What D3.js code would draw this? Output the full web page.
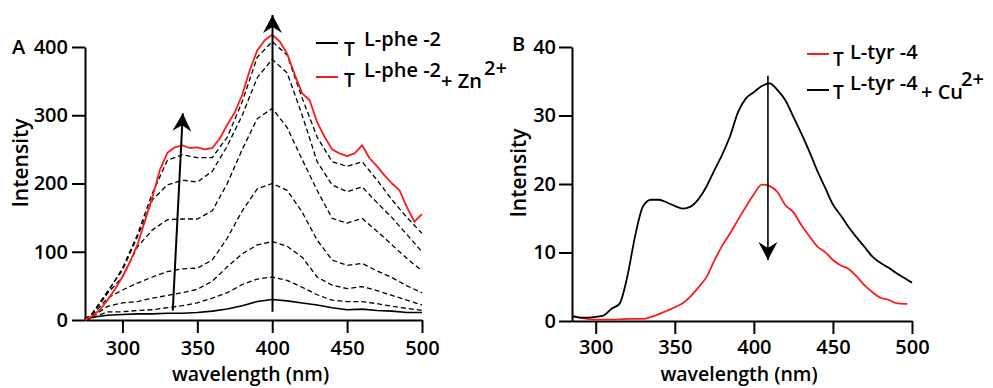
<!DOCTYPE html>
<html><head><meta charset="utf-8">
<script src="https://cdn.jsdelivr.net/npm/d3@7"></script>
<style>
body{margin:0;background:#fff}
text{font-family:"Open Sans",sans-serif;font-weight:600;fill:#000}
</style>
</head><body>
<svg id="c" width="993" height="388"></svg>
<script>
// ---------- Panel A data ----------
const wlA = [275,280,290,300,310,320,330,340,350,360,370,380,390,400,410,420,430,440,450,460,470,480,490,500];
const pheAlone = [0,4,7,8,9,9,10,10,11,13,16,21,27,30,28,25,22,18,15,16,14,13,11,11];
const titr1 = [0,3,12,12,14,15,18,21,25,32,40,52,60,63,58,48,37,29,27,27,24,20,17,14];
const titr2 = [0,5,20,25,27,32,36,40,45,57,78,97,110,115,108,92,63,51,46,49,43,36,29,22];
const titr3 = [1,7,32,44,54,63,71,75,76,88,120,160,192,200,190,158,117,88,80,83,72,62,50,40];
const titr4 = [1,8,39,63,107,132,147,148,148,160,200,250,295,310,282,235,190,149,142,149,130,110,90,72];
const titr5 = [1,10,42,73,122,176,198,205,202,218,255,300,355,382,362,300,232,198,188,195,172,150,125,100];
const titr6 = [1,10,40,76,125,186,234,242,238,238,268,320,385,408,388,325,268,232,225,232,205,176,150,127];
const wlRed = [275,280,285,290,295,300,305,310,315,320,325,330,335,340,345,350,355,360,365,370,375,380,385,390,395,400,405,410,415,420,425,430,435,440,445,450,455,460,465,470,475,480,485,490,495,500];
const pheZn = [0,6,15,29,45,63,85,110,145,180,220,245,253,256,252,253,250,252,266,286,304,330,366,395,410,418,408,390,360,332,322,290,268,250,244,240,244,256,237,225,212,200,190,165,144,155];
const xTicksA = [300,350,400,450,500];
const yTicksA = [0,100,200,300,400];

// ---------- Panel B data ----------
const wlTyr = [285,290,295,300,310,320,330,335,340,345,350,355,360,365,370,375,380,385,390,395,400,405,410,415,420,425,430,435,440,445,450,455,460,465,470,475,480,485,490,495,497];
const tyr = [0.8,0.5,0.3,0.2,0.2,0.3,0.3,0.6,1.0,1.5,2.0,2.6,3.6,4.9,6.4,8.8,11.0,12.8,14.8,16.7,18.5,19.9,19.7,18.8,16.9,15.9,14.0,12.4,10.9,10.1,8.9,8.1,7.6,6.5,5.2,4.2,3.4,3.1,2.6,2.5,2.5];
const wlCu = [285,290,295,300,305,310,315,320,325,330,335,340,345,350,355,360,365,370,375,380,385,390,395,400,405,410,415,420,425,430,435,440,445,450,455,460,465,470,475,480,485,490,495,500];
const tyrCu = [0.7,0.5,0.5,0.6,0.8,1.8,2.5,6.5,12.5,16.8,17.7,17.7,17.3,16.8,16.4,16.7,17.8,19.6,22,24.3,27,30.5,32.5,33.4,34.3,34.7,33.7,32.2,29.8,27.4,24.8,22,19.5,17,15.4,13.7,12.2,10.8,9.4,8.5,7.8,7.0,6.3,5.6];
const xTicksB = [300,350,400,450,500];
const yTicksB = [0,10,20,30,40];

// arrows (data units): [x0,y0,x1,y1] tail -> tip
const arrowsA = [[333.6,14,340.3,303],[400.2,12,400.2,447]];
const arrowsB = [[408.9,35.8,408.9,8.9]];

const svg = d3.select("#c");

function arrowHead(g, x0, y0, x1, y1, L, W, notch){
  const ang = Math.atan2(y1-y0, x1-x0)*180/Math.PI;
  g.append("path")
    .attr("d", `M0,0 L${-L},${-W/2} L${-L+notch},0 L${-L},${W/2} Z`)
    .attr("transform", `translate(${x1},${y1}) rotate(${ang})`)
    .attr("fill", "#000");
}

function drawPanel(cfg){
  const g = svg.append("g");
  const x = d3.scaleLinear().domain(cfg.xd).range(cfg.xr);
  const y = d3.scaleLinear().domain(cfg.yd).range(cfg.yr);

  const xa = g.append("g").attr("transform", `translate(0,${cfg.yr[0]})`)
    .call(d3.axisBottom(x).tickValues(cfg.xt).tickSize(13).tickSizeOuter(0).tickPadding(cfg.xpad));
  const ya = g.append("g").attr("transform", `translate(${cfg.xr[0]},0)`)
    .call(d3.axisLeft(y).tickValues(cfg.yt).tickSize(13).tickSizeOuter(0).tickPadding(cfg.ypad));
  [xa, ya].forEach(a => {
    a.selectAll("path,line").attr("stroke", "#000").attr("stroke-width", 2);
    a.selectAll("text").style("font-size", "20px").style("font-weight", "600").attr("fill", "#000");
  });

  const line = d3.line().curve(cfg.curve).x(d => x(d[0])).y(d => y(d[1]));
  cfg.series.forEach(s => {
    g.append("path")
      .datum(s.x.map((w,i) => [w, s.y[i]]))
      .attr("d", line)
      .attr("fill", "none")
      .attr("stroke", s.color)
      .attr("stroke-width", s.w)
      .attr("stroke-dasharray", s.dash || null)
      .attr("stroke-linejoin", "round");
  });

  cfg.arrows.forEach(a => {
    const X0 = x(a[0]), Y0 = y(a[1]), X1 = x(a[2]), Y1 = y(a[3]);
    g.append("line").attr("x1", X0).attr("y1", Y0).attr("x2", X1).attr("y2", Y1)
      .attr("stroke", "#000").attr("stroke-width", cfg.aw);
    arrowHead(g, X0, Y0, X1, Y1, 18, 19, 6);
  });

  // axis titles
  g.append("text").attr("x", d3.mean(cfg.xr)-3).attr("y", 381).attr("text-anchor", "middle")
    .style("font-size", "19.5px").text("wavelength (nm)");
  g.append("text").attr("transform", `translate(${cfg.ylx},${cfg.yly}) rotate(-90)`)
    .attr("text-anchor", "middle").attr("dy", "0.35em")
    .style("font-size", "21px").text("Intensity");
  g.append("text").attr("x", cfg.lab[0]).attr("y", cfg.lab[1]).style("font-size", "20px").text(cfg.label);
  return g;
}

drawPanel({
  xd:[275,500], xr:[85,422], yd:[0,400], yr:[320,47], xt:xTicksA, yt:yTicksA, xpad:8, ypad:4,
  ylx:21, yly:163, lab:[12,54], label:"A", aw:2, curve:d3.curveLinear,
  series:[
    {x:wlA, y:pheAlone, color:"#000", w:1.6},
    {x:wlA, y:titr1, color:"#000", w:1.3, dash:"5,3"},
    {x:wlA, y:titr2, color:"#000", w:1.3, dash:"5,3"},
    {x:wlA, y:titr3, color:"#000", w:1.3, dash:"5,3"},
    {x:wlA, y:titr4, color:"#000", w:1.3, dash:"5,3"},
    {x:wlA, y:titr5, color:"#000", w:1.3, dash:"5,3"},
    {x:wlA, y:titr6, color:"#000", w:1.3, dash:"5,3"},
    {x:wlRed, y:pheZn, color:"#ff1a1a", w:1.8}
  ],
  arrows: arrowsA
});

drawPanel({
  xd:[285,500], xr:[572,912], yd:[0,40], yr:[321,47], xt:xTicksB, yt:yTicksB, xpad:6, ypad:3,
  ylx:519, yly:173, lab:[512,51], label:"B", aw:1.6, curve:d3.curveMonotoneX,
  series:[
    {x:wlTyr, y:tyr, color:"#ff1a1a", w:1.8},
    {x:wlCu, y:tyrCu, color:"#000", w:1.8}
  ],
  arrows: arrowsB
});

// ---------- legends ----------
function legendRow(x, yLine, color, parts){
  svg.append("line").attr("x1", x).attr("x2", x+22).attr("y1", yLine).attr("y2", yLine)
    .attr("stroke", color).attr("stroke-width", 2);
  parts.forEach(p => {
    svg.append("text").attr("x", p[0]).attr("y", p[1]).style("font-size", p[3]+"px").text(p[2]);
  });
}
legendRow(316, 43, "#000", [[344,56,"T",19],[364,46,"L-phe -2",20]]);
legendRow(316, 77, "#ff1a1a", [[344,87,"T",19],[364,77,"L-phe -2",20],[441,88,"+ Zn",20],[484,75,"2+",20]]);
legendRow(807, 54, "#ff1a1a", [[833,66,"T",19],[850,59,"L-tyr -4",20]]);
legendRow(807, 90, "#000", [[833,99,"T",19],[850,90,"L-tyr -4",20],[921,99,"+ Cu",20],[961,86,"2+",20]]);
</script>
</body></html>
